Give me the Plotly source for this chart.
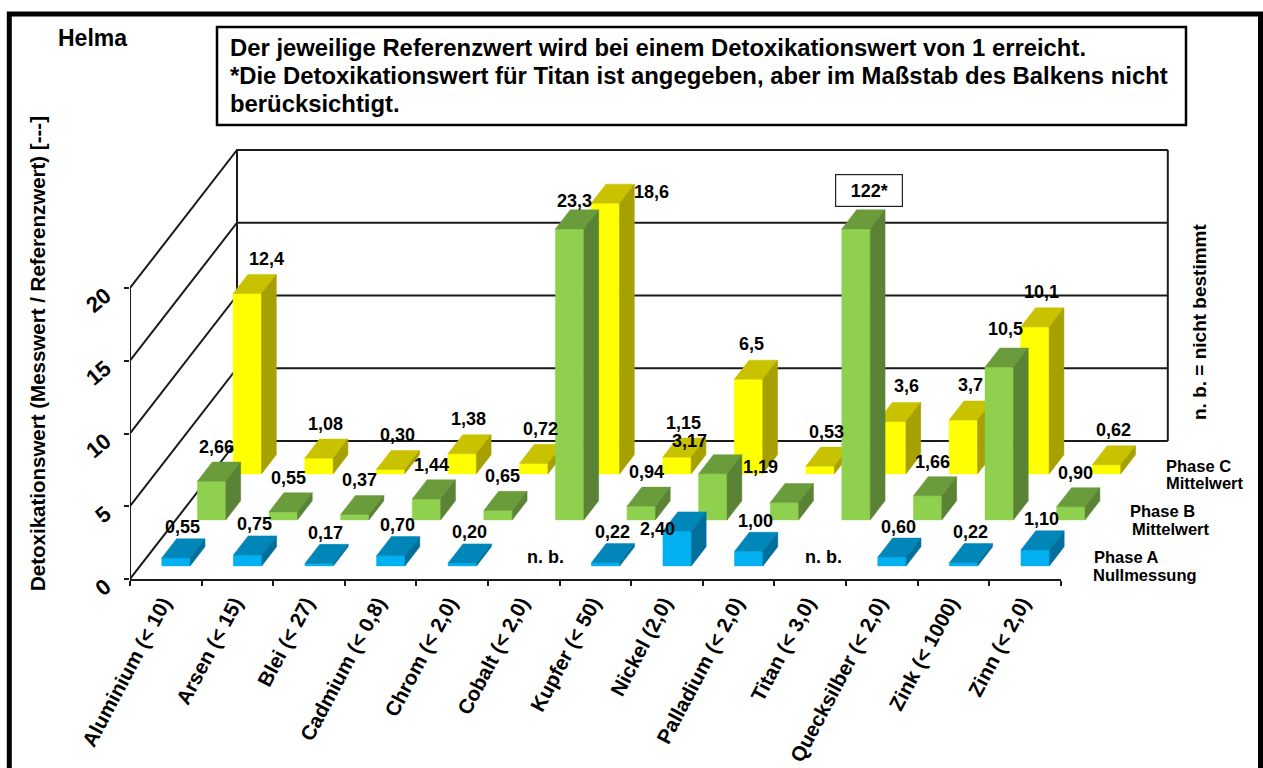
import plotly.graph_objects as go

# ---------- data ----------
categories = ["Aluminium (< 10)", "Arsen (< 15)", "Blei (< 27)", "Cadmium (< 0,8)", "Chrom (< 2,0)",
              "Cobalt (< 2,0)", "Kupfer (< 50)", "Nickel (2,0)", "Palladium (< 2,0)", "Titan (< 3,0)",
              "Quecksilber (< 2,0)", "Zink (< 1000)", "Zinn (< 2,0)"]
phase_a = [0.55, 0.75, 0.17, 0.70, 0.20, None, 0.22, 2.40, 1.00, None, 0.60, 0.22, 1.10]
phase_b = [2.66, 0.55, 0.37, 1.44, 0.65, 23.3, 0.94, 3.17, 1.19, 122, 1.66, 10.5, 0.90]
phase_c = [12.4, 1.08, 0.30, 1.38, 0.72, 18.6, 1.15, 6.5, 0.53, 3.6, 3.7, 10.1, 0.62]
labels_a = ["0,55", "0,75", "0,17", "0,70", "0,20", "n. b.", "0,22", "2,40", "1,00", "n. b.", "0,60", "0,22", "1,10"]
labels_b = ["2,66", "0,55", "0,37", "1,44", "0,65", "23,3", "0,94", "3,17", "1,19", "122*", "1,66", "10,5", "0,90"]
labels_c = ["12,4", "1,08", "0,30", "1,38", "0,72", "18,6", "1,15", "6,5", "0,53", "3,6", "3,7", "10,1", "0,62"]
y_ticks = [0, 5, 10, 15, 20]
y_max = 20

# ---------- projection / layout constants ----------
PX_X, PX_Y = 71.6, 14.55          # pixels per category, pixels per value unit
LEFT, FLOOR, RIGHT = 130, 579, 1258
SLOT_X, SLOT_Y = 35.67 / PX_X, 46 / PX_Y   # oblique depth vector per row
GAP, BAR_D = 0.285, 0.415
BAR_W = 0.397
BAR_L = (1 - BAR_W) / 2
FONT = "Liberation Sans"
LINE = "#1a1a1a"


def proj(cat, depth, val):
    return cat + depth * SLOT_X, val + depth * SLOT_Y


def faces(values, row):
    front, top, side = ([], []), ([], []), ([], [])
    for i, v in enumerate(values):
        if v is None:
            continue
        h = min(v, y_max)
        a, b = i + BAR_L, i + BAR_L + BAR_W
        d0, d1 = row + GAP, row + GAP + BAR_D
        polys = [
            (front, [proj(a, d0, 0), proj(b, d0, 0), proj(b, d0, h), proj(a, d0, h)]),
            (top, [proj(a, d0, h), proj(b, d0, h), proj(b, d1, h), proj(a, d1, h)]),
            (side, [proj(b, d0, 0), proj(b, d1, 0), proj(b, d1, h), proj(b, d0, h)]),
        ]
        for store, pts in polys:
            store[0].extend([p[0] for p in pts] + [pts[0][0], None])
            store[1].extend([p[1] for p in pts] + [pts[0][1], None])
    return front, top, side


def paper(px, py):
    return (px - LEFT) / (RIGHT - LEFT), (FLOOR - py) / FLOOR


fig = go.Figure()

# walls and grid
wall_x, wall_y = [], []
for t in y_ticks:
    x0, y0 = proj(0, 0, t)
    x1, y1 = proj(0, 3, t)
    x2, y2 = proj(13, 3, t)
    wall_x += [x0, x1, x2, None]
    wall_y += [y0, y1, y2, None]
for c, d in [(0, 0), (0, 3), (13, 3)]:
    x0, y0 = proj(c, d, 0)
    x1, y1 = proj(c, d, y_max)
    wall_x += [x0, x1, None]
    wall_y += [y0, y1, None]
fig.add_trace(go.Scatter(x=wall_x, y=wall_y, mode="lines", line=dict(color=LINE, width=2),
                         hoverinfo="skip", showlegend=False))

# bars: back row first
series = [
    ("Phase C", phase_c, 2, "#FFFF00", "#C9C200", "#A6A000"),
    ("Phase B", phase_b, 1, "#8FD14F", "#6B9C3C", "#5B8335"),
    ("Phase A", phase_a, 0, "#00B0F0", "#0086B8", "#006F9C"),
]
for name, vals, row, c_front, c_top, c_side in series:
    f, t, s = faces(vals, row)
    for (xs, ys), col in [(f, c_front), (t, c_top), (s, c_side)]:
        fig.add_trace(go.Scatter(x=xs, y=ys, mode="lines", fill="toself", fillcolor=col,
                                 line=dict(color=col, width=0.5), name=name,
                                 hoverinfo="skip", showlegend=False))

# invisible carrier of the category axis
fig.add_trace(go.Scatter(x=categories, y=[0] * 13, xaxis="x2", yaxis="y", mode="markers",
                         marker=dict(size=1, opacity=0), hoverinfo="skip", showlegend=False))

# value labels, nudged from the back top edge of each bar
ann = []
exceptions = {
    (0, 5): (-3, 9.5), (0, 7): (-34, 16), (0, 9): (-12, 9.5),
    (1, 5): (-10, -9.5), (1, 7): (-38, -15), (1, 8): (-39, -17), (1, 11): (-9, -20),
    (2, 0): (4, -16), (2, 5): (31, 7), (2, 7): (-12, -17), (2, 9): (0, -17),
}
defaults = {0: (-8, -12.5), 1: (-10, -16), 2: (-8, -16.5)}
for vals, labs, row in [(phase_a, labels_a, 0), (phase_b, labels_b, 1), (phase_c, labels_c, 2)]:
    for i, (v, lab) in enumerate(zip(vals, labs)):
        h = 0 if v is None else min(v, y_max)
        x, y = proj(i + 0.5, row + GAP + BAR_D, h)
        dx, dy = exceptions.get((row, i), defaults[row])
        a = dict(x=x, y=y, xref="x", yref="y", text=lab, showarrow=False, xshift=dx, yshift=-dy - 1,
                 font=dict(family=FONT, size=18, color="black"), xanchor="center", yanchor="middle")
        if lab.endswith("*"):
            a.update(xshift=-2, yshift=19, bordercolor="#222", borderwidth=1.2, bgcolor="white",
                     width=64, height=29, valign="middle", align="center")
        a["text"] = "<b>" + lab + "</b>"
        ann.append(a)


def text(px, py, s, size, xanchor="left", angle=0):
    x, y = paper(px, py)
    ann.append(dict(x=x, y=y, xref="paper", yref="paper", text="<b>" + s + "</b>", showarrow=False,
                    font=dict(family=FONT, size=size, color="black"), xanchor=xanchor, yanchor="middle",
                    textangle=angle))


text(92, 38, "Helma", 23, "center")
text(228, 48, "Der jeweilige Referenzwert wird bei einem Detoxikationswert von 1 erreicht.", 23.85)
text(228, 76, "*Die Detoxikationswert für Titan ist angegeben, aber im Maßstab des Balkens nicht", 23.85)
text(228, 103, "berücksichtigt.", 23.85)
text(37, 354, "Detoxikationswert (Messwert / Referenzwert) [---]", 20.5, "center", -90)
text(1199, 322, "n. b. = nicht bestimmt", 19, "center", -90)
text(1164, 466, "Phase C", 16.5)
text(1164, 483, "Mittelwert", 16.5)
text(1128, 511, "Phase B", 16.5)
text(1130, 529, "Mittelwert", 16.5)
text(1092, 557, "Phase A", 16.5)
text(1091, 575, "Nullmessung", 16.5)

# frame and title box
shapes = []
fx0, fy0 = paper(9.3, 14)
fx1, fy1 = paper(1260.5, 790)
shapes.append(dict(type="rect", xref="paper", yref="paper", x0=fx0, y0=fy0, x1=fx1, y1=fy1,
                   line=dict(color="black", width=5), layer="above"))
bx0, by0 = paper(217, 27)
bx1, by1 = paper(1186, 125)
shapes.append(dict(type="rect", xref="paper", yref="paper", x0=bx0, y0=by0, x1=bx1, y1=by1,
                   line=dict(color="black", width=2.5), fillcolor="white", layer="below"))

fig.update_layout(
    width=1263, height=768, autosize=False,
    margin=dict(l=LEFT, r=1263 - RIGHT, t=0, b=768 - FLOOR, pad=0),
    paper_bgcolor="white", plot_bgcolor="rgba(0,0,0,0)", showlegend=False,
    annotations=ann, shapes=shapes,
    xaxis=dict(domain=[0, 1], range=[0, (RIGHT - LEFT) / PX_X], visible=False, anchor="y"),
    xaxis2=dict(domain=[0, 13 * PX_X / (RIGHT - LEFT)], type="category", categoryorder="array",
                categoryarray=categories, range=[-0.5, 12.5], anchor="y", tickson="boundaries",
                ticks="outside", ticklen=5, tickwidth=1.5, tickcolor=LINE, showline=True,
                linecolor=LINE, linewidth=2, showgrid=False, tickangle=-62, ticklabelstandoff=2,
                ticklabelshift=-3,
                tickfont=dict(family=FONT, size=20.5, color="black", weight="bold")),
    yaxis=dict(domain=[0, 1], range=[0, FLOOR / PX_Y], anchor="x", tickmode="array", tickvals=y_ticks,
               ticktext=[str(t) for t in y_ticks], ticks="outside", ticklen=5, tickwidth=1.5,
               tickcolor=LINE, showline=False, showgrid=False, zeroline=False, tickangle=-40,
               ticklabelstandoff=14, ticklabelshift=5,
               tickfont=dict(family=FONT, size=22, color="black", weight="bold")),
)
fig.write_html("out.html", config=dict(displayModeBar=False),
               post_script="document.body.style.margin='0';document.documentElement.style.overflow='hidden';")
